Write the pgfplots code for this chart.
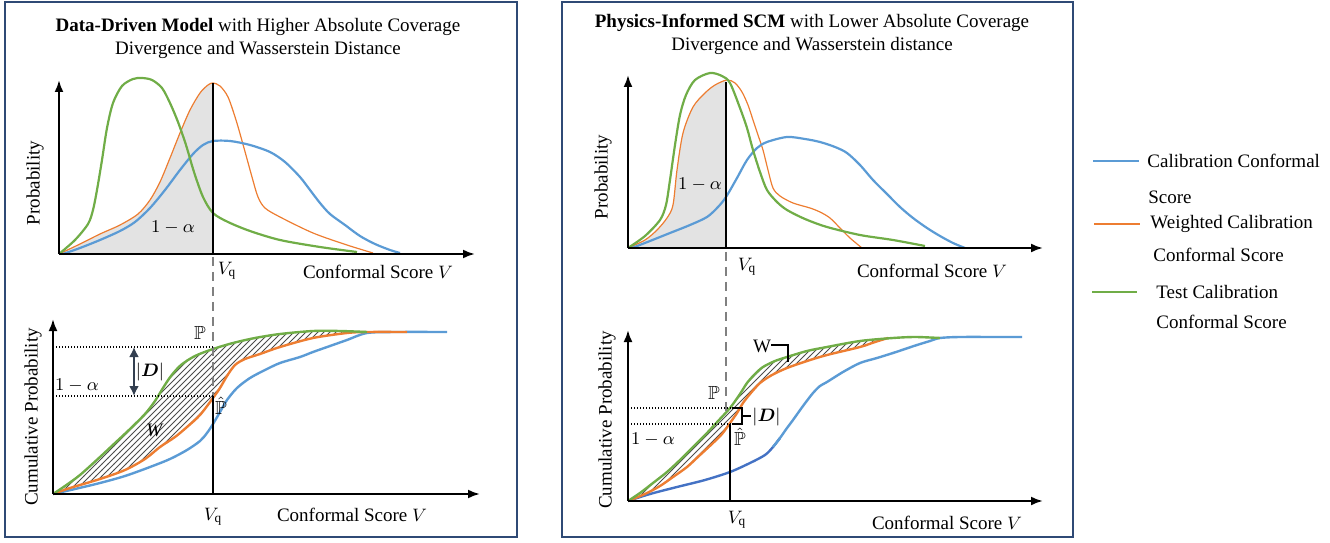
\documentclass[border=0pt]{standalone}
\usepackage{amsmath,amssymb,bm}
\usepackage{fontspec}
\setmainfont{Liberation Serif}
\usepackage{pgfplots}
\pgfplotsset{compat=1.18}
\usepgfplotslibrary{fillbetween}
\usetikzlibrary{patterns,arrows.meta}
\definecolor{cblue}{HTML}{5B9BD5}
\definecolor{cdblue}{HTML}{4472C4}
\definecolor{corange}{HTML}{ED7D31}
\definecolor{cgreen}{HTML}{70AD47}
\definecolor{cbox}{HTML}{2F4A75}
\definecolor{cslate}{HTML}{333F50}
\begin{document}
\begin{tikzpicture}[
  lab/.style={font=\fontsize{9.5}{11.5}\selectfont, inner sep=0pt},
  ax/.style={line width=1.1pt, -{Latex[length=6pt,width=4.5pt]}},
]
\begin{axis}[
  set layers,
  scale only axis, width=665pt, height=271pt,
  xmin=0, xmax=1330, ymin=0, ymax=542, y dir=reverse,
  axis lines=none, clip=false,
]
\path (0,0) rectangle (1330,542);
% boxes
\draw[cbox, line width=0.8pt] (5,2) rectangle (517,537);
\draw[cbox, line width=0.8pt] (562,2) rectangle (1073,537);
% titles
\node[lab, align=center] at (258,38) {\textbf{Data-Driven Model} with Higher Absolute Coverage\\Divergence and Wasserstein Distance};
\node[lab, align=center] at (812,34) {\textbf{Physics-Informed SCM} with Lower Absolute Coverage\\Divergence and Wasserstein distance};

% ================= LEFT PDF =================
\begin{scope}
\clip (59,70) rectangle (213,256);
\addplot[fill=gray!22, draw=none, smooth] coordinates {(59,254)(80,244)(100,234)(120,225)(138,214)(150,200)(160,182)(170,158)(180,133)(190,110)(200,93)(208,85)(213,83)(220,86)(228,97)(236,120)(244,148)(252,177)(258,197)(265,208)(280,217)(313,233)(347,245)(373,254)} -- cycle;
\end{scope}
\addplot[corange, line width=0.6pt, smooth] coordinates {(59,254)(80,244)(100,234)(120,225)(138,214)(150,200)(160,182)(170,158)(180,133)(190,110)(200,93)(208,85)(213,83)(220,86)(228,97)(236,120)(244,148)(252,177)(258,197)(265,208)(280,217)(313,233)(347,245)(373,253)};
\addplot[cblue, line width=1.1pt, smooth] coordinates {(63,254)(80,248)(100,240)(120,231)(135,222)(150,208)(165,190)(180,170)(193,154)(203,145)(213,141)(230,141)(250,145)(270,152)(285,162)(300,177)(310,190)(320,203)(330,214)(345,225)(360,236)(375,244)(390,250)(400,253)};
\addplot[cgreen, line width=1.1pt, smooth] coordinates {(59,254)(75,240)(88,224)(93,210)(97,190)(102,160)(107,128)(113,103)(122,86)(133,79)(142,78)(152,80)(162,88)(170,103)(178,122)(186,145)(194,172)(203,197)(213,213)(228,222)(250,231)(280,240)(320,247)(357,252)};
\draw[ax] (59,254) -- (475,254);
\draw[ax] (59,254) -- (59,80);
\draw[line width=1.1pt] (213,83) -- (213,254);
\node[lab] at (173,228) {$1-\alpha$};
\node[lab, rotate=90] at (35,183) {Probability};
\node[lab] at (227,271) {$V_{\mathrm{q}}$};
\node[lab] at (378,272) {Conformal Score $V$};

% ================= LEFT CDF =================
\addplot[cblue, line width=1.2pt, smooth] coordinates {(53,494)(75,489)(100,483)(125,476)(150,467)(170,459)(187,450)(200,441)(207,433)(213,424)(220,412)(227,400)(237,388)(250,378)(265,370)(280,363)(300,357)(313,352)(330,346)(347,340)(367,333)(397,332)(447,332)};
\addplot[corange, line width=1.2pt, smooth, name path=oCL] coordinates {(53,494)(70,488)(100,479)(125,470)(145,459)(160,447)(175,437)(187,427)(200,415)(213,398)(220,388)(227,376)(235,365)(245,359)(260,354)(280,347)(313,338)(347,333)(367,332)(407,332)};
\addplot[cgreen, line width=1.2pt, smooth, name path=gCL] coordinates {(53,494)(65,486)(80,475)(100,457)(115,443)(130,429)(145,414)(155,401)(163,388)(171,376)(181,365)(195,356)(213,349)(233,343)(255,338)(280,334)(313,331)(340,331)(367,332)};
\addplot[pattern=north east lines, pattern color=black!70, draw=none] fill between[of=gCL and oCL, soft clip={domain=53:367}];
\draw[ax] (53,494) -- (480,494);
\draw[ax] (53,494) -- (53,319);
\draw[gray, line width=1.2pt, dash pattern=on 4.5pt off 3pt] (213,257) -- (213,396);
\draw[line width=1.1pt] (213,396) -- (213,494);
\draw[line width=0.7pt, dash pattern=on 0.6pt off 0.9pt] (53,347) -- (213,347);
\draw[line width=0.7pt, dash pattern=on 0.6pt off 0.9pt] (53,396) -- (213,396);
\draw[cslate, line width=1.3pt, {Latex[length=5pt,width=5pt]}-{Latex[length=5pt,width=5pt]}] (134,347) -- (134,396);
\node[lab] at (150,372) {$|\bm{D}|$};
\node[lab] at (77,386) {$1-\alpha$};
\node[lab] at (200,333) {$\mathbb{P}$};
\node[lab] at (221,406) {$\hat{\mathbb{P}}$};
\node[lab] at (155,430) {\textit{W}};
\node[lab, rotate=90] at (33,417) {Cumulative Probability};
\node[lab] at (213,517) {$V_{\mathrm{q}}$};
\node[lab] at (352,515) {Conformal Score $V$};

% ================= RIGHT PDF =================
\addplot[draw=none, name path=axR] coordinates {(628,248) (1043,248)};
\addplot[corange, line width=0.6pt, smooth, name path=oPR] coordinates {(628,248)(645,240)(657,230)(667,218)(673,205)(677,170)(683,133)(693,107)(705,93)(715,85)(727,80)(735,83)(742,92)(748,105)(753,120)(758,135)(763,150)(768,170)(773,188)(780,196)(793,203)(810,208)(820,212)(830,218)(840,228)(850,238)(862,248)};
\addplot[fill=gray!22, draw=none] fill between[of=oPR and axR, soft clip={domain=628:726}];
\addplot[cblue, line width=1.1pt, smooth] coordinates {(632,248)(650,241)(670,233)(690,225)(707,217)(718,207)(726,197)(737,178)(747,160)(757,148)(767,142)(787,137)(805,139)(820,142)(835,147)(847,153)(860,165)(873,180)(887,194)(900,207)(913,218)(927,228)(940,236)(953,243)(965,248)};
\addplot[cgreen, line width=1.1pt, smooth] coordinates {(628,248)(645,236)(660,220)(666,205)(670,180)(675,145)(680,115)(686,95)(695,80)(710,73)(722,76)(730,83)(740,108)(747,128)(753,150)(760,172)(767,190)(777,202)(787,210)(805,219)(827,227)(860,235)(893,240)(925,246)};
\draw[ax] (628,248) -- (1043,248);
\draw[ax] (628,248) -- (628,75);
\draw[line width=1.1pt] (726,82) -- (726,248);
\node[lab] at (700,185) {$1-\alpha$};
\node[lab, rotate=90] at (603,177) {Probability};
\node[lab] at (747,267) {$V_{\mathrm{q}}$};
\node[lab] at (932,271) {Conformal Score $V$};

% ================= RIGHT CDF =================
\addplot[cdblue, line width=1.2pt, smooth] coordinates {(628,501)(650,494)(677,487)(705,480)(730,472)(750,463)(765,455)(773,447)(780,438)};
\addplot[cblue, line width=1.2pt, smooth] coordinates {(773,447)(780,438)(787,428)(793,420)(803,406)(813,393)(820,386)(827,382)(843,372)(860,363)(877,358)(893,353)(905,349)(917,345)(930,341)(940,338)(960,337)(1000,337)(1022,337)};
\addplot[corange, line width=1.2pt, smooth, name path=oCR] coordinates {(628,501)(645,494)(660,486)(673,477)(687,467)(700,455)(713,443)(722,434)(730,423)(737,413)(743,403)(750,394)(760,383)(772,375)(787,368)(807,361)(827,355)(860,347)(875,342)(888,338)};
\addplot[cgreen, line width=1.2pt, smooth, name path=gCR] coordinates {(628,501)(640,493)(653,483)(667,472)(680,460)(693,447)(707,433)(719,420)(730,408)(740,394)(747,383)(755,374)(763,367)(775,361)(787,357)(807,351)(827,347)(860,341)(893,338)(915,337)(940,338)};
\addplot[pattern=north east lines, pattern color=black!70, draw=none] fill between[of=gCR and oCR, soft clip={domain=628:888}];
\draw[ax] (628,501) -- (1043,501);
\draw[ax] (628,501) -- (628,330);
\draw[gray, line width=1.2pt, dash pattern=on 4.5pt off 3pt] (726,252) -- (726,414);
\draw[line width=1.1pt] (730,424) -- (730,501);
\draw[line width=0.7pt, dash pattern=on 0.6pt off 0.9pt] (628,408) -- (732,408);
\draw[line width=0.7pt, dash pattern=on 0.6pt off 0.9pt] (628,424) -- (732,424);
\draw[line width=0.8pt] (732,408) -- (742,408) -- (742,424) -- (732,424);
\draw[line width=0.8pt] (742,416) -- (751,416);
\node[lab, anchor=west] at (752,417) {$|\bm{D}|$};
\draw[line width=0.8pt] (771,345) -- (788,345) -- (788,362);
\node[lab] at (762,346) {W};
\node[lab] at (714,393) {$\mathbb{P}$};
\node[lab] at (740,437) {$\hat{\mathbb{P}}$};
\node[lab] at (653,440) {$1-\alpha$};
\node[lab, rotate=90] at (607,420) {Cumulative Probability};
\node[lab] at (737,520) {$V_{\mathrm{q}}$};
\node[lab] at (947,523) {Conformal Score $V$};

% ================= LEGEND =================
\draw[cblue, line width=1.3pt] (1093,161) -- (1139,161);
\node[lab, anchor=west] at (1147,161) {Calibration Conformal};
\node[lab, anchor=west] at (1148,197) {Score};
\draw[corange, line width=1.3pt] (1094,224) -- (1140,224);
\node[lab, anchor=west] at (1150,224) {Weighted Calibration};
\node[lab, anchor=west] at (1153,255) {Conformal Score};
\draw[cgreen, line width=1.3pt] (1092,292) -- (1137,292);
\node[lab, anchor=west] at (1156,292) {Test Calibration};
\node[lab, anchor=west] at (1156,322) {Conformal Score};
\end{axis}
\end{tikzpicture}
\end{document}
